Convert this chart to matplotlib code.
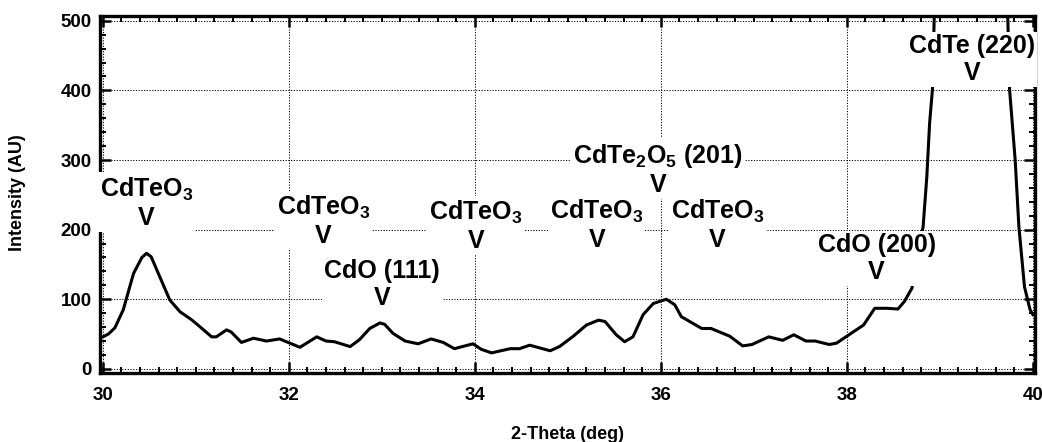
import matplotlib
matplotlib.use("Agg")
import matplotlib.pyplot as plt
from matplotlib.ticker import MultipleLocator

# Difratograma (leitura aproximada do grafico)
two_theta = [30.00, 30.06, 30.13, 30.22, 30.33, 30.42, 30.47, 30.52, 30.61, 30.72,
             30.83, 30.95, 31.04, 31.17, 31.22, 31.33, 31.38, 31.49, 31.62, 31.76,
             31.90, 32.01, 32.12, 32.30, 32.40, 32.49, 32.66, 32.76, 32.87, 32.98,
             33.03, 33.12, 33.25, 33.39, 33.53, 33.66, 33.78, 33.98, 34.07, 34.18,
             34.38, 34.48, 34.59, 34.70, 34.81, 34.91, 35.06, 35.20, 35.33, 35.40,
             35.52, 35.61, 35.70, 35.81, 35.92, 36.06, 36.15, 36.22, 36.44, 36.54,
             36.74, 36.88, 36.98, 37.16, 37.31, 37.43, 37.56, 37.66, 37.81, 37.89,
             37.99, 38.18, 38.30, 38.43, 38.55, 38.62, 38.70, 38.82, 38.86, 38.89,
             38.92, 38.95, 39.35, 39.72, 39.75, 39.81, 39.85, 39.91, 39.97, 40.00]
intensity = [46, 50, 59, 85, 137, 160, 166, 161, 133, 99,
             82, 71, 61, 46, 46, 56, 53, 38, 44, 40,
             43, 37, 31, 46, 40, 39, 32, 42, 58, 66,
             64, 51, 40, 36, 43, 38, 29, 36, 28, 23,
             29, 29, 34, 30, 26, 32, 47, 63, 70, 68,
             49, 39, 46, 78, 94, 100, 92, 75, 58, 58,
             47, 33, 35, 46, 41, 49, 40, 40, 35, 37,
             46, 63, 87, 87, 86, 97, 116, 204, 276, 353,
             401, 560, 1800, 560, 401, 300, 204, 118, 85, 78]

# Rotulos das fases
rotulos = ["CdTeO$_3$", "CdTeO$_3$", "CdO (111)", "CdTeO$_3$", "CdTeO$_3$",
           "CdTe$_2$O$_5$ (201)", "CdTeO$_3$", "CdO (200)", "CdTe (220)"]
rotulo_x = [30.47, 32.37, 33.00, 34.01, 35.31, 35.97, 36.61, 38.32, 39.35]
rotulo_y = [239, 212, 121, 205, 207, 286, 207, 159, 444]

plt.rcParams["font.family"] = "Liberation Sans"
plt.rcParams["font.weight"] = "bold"
plt.rcParams["mathtext.fontset"] = "custom"
plt.rcParams["mathtext.rm"] = "Liberation Sans:bold"
plt.rcParams["mathtext.it"] = "Liberation Sans:bold"
plt.rcParams["mathtext.bf"] = "Liberation Sans:bold"
plt.rcParams["mathtext.default"] = "rm"

fig = plt.figure(figsize=(10.42, 4.42), dpi=100)
ax = fig.add_axes([0.096, 0.156, 0.897, 0.808])

ax.plot(two_theta, intensity, color="black", linewidth=2.2, solid_joinstyle="round")

for texto, x, y in zip(rotulos, rotulo_x, rotulo_y):
    ax.text(x, y, texto + "\nV", ha="center", va="center", multialignment="center",
            fontsize=18, fontweight="bold", linespacing=1.15,
            bbox=dict(boxstyle="square,pad=0.08", fc="white", ec="none"))

ax.set_xlim(29.97, 40.02)
ax.set_ylim(-6, 507)
ax.xaxis.set_major_locator(MultipleLocator(2))
ax.xaxis.set_minor_locator(MultipleLocator(0.2))
ax.yaxis.set_major_locator(MultipleLocator(100))
ax.yaxis.set_minor_locator(MultipleLocator(20))

ax.grid(True, which="major", color="black", linestyle=(0, (1.2, 1.6)), linewidth=0.7)

ax.tick_params(which="both", direction="in", top=True, right=True, labelsize=13.5)
ax.tick_params(which="major", length=8, width=1.8)
ax.tick_params(which="minor", length=4, width=1.4)
ax.tick_params(axis="x", pad=10)
ax.tick_params(axis="y", pad=6)
for rot in ax.get_xticklabels() + ax.get_yticklabels():
    rot.set_fontweight("bold")

for lado in ax.spines.values():
    lado.set_linewidth(2.4)

ax.set_xlabel("2-Theta (deg)", fontsize=13, fontweight="bold")
ax.set_ylabel("Intensity (AU)", fontsize=13, fontweight="bold")
ax.xaxis.set_label_coords(0.5, -0.148)
ax.yaxis.set_label_coords(-0.079, 0.504)

fig.savefig("out.png", dpi=100)
